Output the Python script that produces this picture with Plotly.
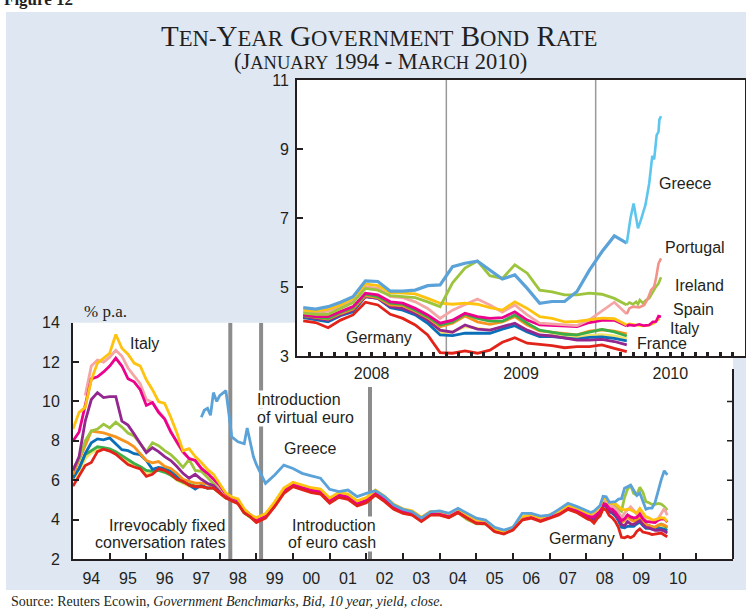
import plotly.graph_objects as go

W, H = 746, 610
SANS = "Liberation Sans, Arial, sans-serif"
SERIF = "Liberation Serif, Times New Roman, serif"
INK = "#231f20"
PANEL = "#dfe7f3"

# ---- x positions -------------------------------------------------------
years_a = [1994 + k / 6 for k in range(30)]          # 1994-1998, every 2nd month
years_b = [1999 + k / 4 for k in range(36)]          # 1999-2007, quarterly
months = [2008 + (k + 0.5) / 12 for k in range(27)]  # Jan 2008 - Mar 2010, monthly

# ---- long run, 1994-1998 -------------------------------------------------
germany_a = [5.7, 6.2, 6.75, 6.9, 7.45, 7.58, 7.48, 7.32, 7.08, 6.8, 6.67, 6.58, 6.2, 6.3, 6.58,
             6.5, 6.32, 6.05, 5.95, 5.75, 5.67, 5.68, 5.6, 5.6, 5.35, 5.12, 4.95, 4.8, 4.35, 4.15]
italy_a = [8.6, 9.45, 9.7, 11.1, 11.95, 12.2, 12.45, 13.4, 12.7, 12.4, 11.95, 11.8, 11.1, 10.6, 10.0,
           9.9, 9.2, 8.4, 7.5, 7.6, 7.2, 6.9, 6.55, 6.3, 5.85, 5.35, 5.15, 5.05, 4.55, 4.25]
spain_a = [8.0, 8.45, 9.8, 11.15, 11.25, 11.5, 11.8, 12.2, 11.8, 11.15, 11.0, 10.6, 9.8, 9.95, 9.45,
           9.1, 8.45, 7.95, 7.45, 7.1, 7.0, 6.6, 6.35, 6.05, 5.75, 5.3, 5.1, 5.0, 4.5, 4.25]
portugal_a = [None, None, 10.3, 11.8, 12.1, 12.0, 12.25, 12.6, 12.3, 11.7, 11.3, 10.9, 10.1, 9.95, 9.5,
              9.15, 8.5, 7.9, 7.4, 7.1, 7.0, 6.6, 6.35, 6.05, 5.65, 5.25, 5.1, 5.0, 4.45, 4.2]
finland_a = [6.5, 7.2, 9.0, 10.1, 10.45, 10.2, 10.25, 10.25, 9.0, 8.8, 8.35, 7.9, 7.4, 7.65, 7.45,
             7.2, 7.0, 6.7, 6.35, 6.1, 6.3, 6.05, 5.85, 5.72, 5.4, 5.12, 5.0, 4.95, 4.45, 4.25]
ireland_a = [6.6, 7.05, 8.0, 8.5, 8.6, 8.85, 8.65, 8.95, 8.7, 8.4, 8.25, 7.85, 7.45, 7.9, 7.75,
             7.5, 7.3, 7.0, 6.65, 7.05, 6.5, 6.45, 6.15, 5.8, 5.55, 5.2, 5.05, 5.0, 4.4, 4.2]
belgium_a = [6.3, 7.0, 7.75, 8.5, 8.45, 8.4, 8.3, 8.2, 8.05, 7.9, 7.7, 7.35, 7.0, 6.88, 6.95,
             6.7, 6.6, 6.35, 6.05, 5.95, 5.85, 5.85, 5.8, 5.7, 5.35, 5.1, 5.0, 4.9, 4.38, 4.18]
france_a = [6.1, 6.6, 7.35, 7.9, 8.1, 8.05, 8.15, 7.85, 7.55, 7.5, 7.35, 7.3, 7.0, 6.55, 6.65,
            6.6, 6.45, 6.2, 5.95, 5.75, 5.55, 5.75, 5.6, 5.65, 5.35, 5.1, 5.0, 4.85, 4.35, 4.15]
austria_a = [6.2, 6.6, 7.3, 7.5, 7.7, 7.65, 7.6, 7.45, 7.25, 7.05, 6.85, 6.7, 6.5, 6.45, 6.5,
             6.4, 6.25, 6.05, 5.9, 5.8, 5.7, 5.7, 5.6, 5.6, 5.35, 5.1, 4.98, 4.85, 4.35, 4.15]
netherlands_a = [6.0, 6.45, 7.1, 7.4, 7.55, 7.6, 7.55, 7.4, 7.2, 6.95, 6.75, 6.65, 6.4, 6.35, 6.55,
                 6.45, 6.3, 6.0, 5.85, 5.7, 5.7, 5.7, 5.6, 5.6, 5.35, 5.1, 4.97, 4.82, 4.32, 4.12]

greece_years_a = [1997.5, 1997.58, 1997.67, 1997.75, 1997.83, 1997.92, 1998.0, 1998.08, 1998.17,
                  1998.25, 1998.33, 1998.5, 1998.67, 1998.75, 1998.83, 1998.92]
greece_a = [9.2, 9.55, 9.65, 9.3, 10.45, 10.0, 10.3, 10.4, 10.55, 9.4, 8.2, 7.95, 7.85, 8.65, 8.0, 7.2]

# ---- long run, 1999-2007 -------------------------------------------------
germany_b = [3.85, 4.07, 4.66, 5.33, 5.67, 5.5, 5.37, 5.3, 4.83, 5.13, 5.03, 4.69, 4.86, 5.25, 4.91, 4.52, 4.32, 4.23,
             3.9, 4.23, 4.23, 4.1, 4.35, 4.07, 3.81, 3.78, 3.39, 3.27, 3.47, 3.98, 4.07, 3.9, 4.07, 4.23, 4.52, 4.35]
italy_b = [4.1, 4.3, 4.9, 5.6, 5.9, 5.75, 5.62, 5.55, 5.1, 5.38, 5.3, 4.95, 5.12, 5.5, 5.18, 4.78, 4.55, 4.45,
           4.12, 4.42, 4.42, 4.3, 4.55, 4.25, 3.98, 3.95, 3.52, 3.4, 3.62, 4.15, 4.25, 4.08, 4.25, 4.42, 4.72, 4.58]
spain_b = [3.95, 4.17, 4.78, 5.45, 5.8, 5.62, 5.5, 5.42, 4.97, 5.26, 5.15, 4.8, 4.98, 5.36, 5.02, 4.6, 4.4, 4.3,
           3.98, 4.3, 4.3, 4.17, 4.42, 4.12, 3.86, 3.82, 3.42, 3.3, 3.51, 4.02, 4.12, 3.95, 4.12, 4.3, 4.6, 4.45]
portugal_b = [4.0, 4.22, 4.82, 5.5, 5.83, 5.67, 5.55, 5.47, 5.0, 5.3, 5.2, 4.85, 5.03, 5.42, 5.08, 4.68, 4.47, 4.37,
              4.03, 4.36, 4.35, 4.22, 4.46, 4.16, 3.9, 3.86, 3.45, 3.33, 3.55, 4.07, 4.17, 4.0, 4.17, 4.35, 4.66, 4.5]
finland_b = [3.92, 4.14, 4.74, 5.42, 5.76, 5.58, 5.45, 5.38, 4.9, 5.2, 5.1, 4.76, 4.93, 5.32, 4.98, 4.58, 4.38, 4.28,
             3.96, 4.28, 4.28, 4.15, 4.4, 4.12, 3.85, 3.82, 3.42, 3.3, 3.5, 4.03, 4.12, 3.95, 4.12, 4.28, 4.58, 4.42]
ireland_b = [3.95, 4.17, 4.78, 5.45, 5.78, 5.62, 5.5, 5.42, 4.96, 5.25, 5.15, 4.8, 4.97, 5.35, 5.0, 4.6, 4.38, 4.28,
             3.95, 4.26, 4.25, 4.12, 4.35, 4.0, 3.78, 3.8, 3.4, 3.3, 3.52, 4.05, 4.13, 3.96, 4.12, 4.3, 4.6, 4.44]
belgium_b = [4.0, 4.22, 4.82, 5.5, 5.84, 5.66, 5.53, 5.46, 4.99, 5.3, 5.19, 4.85, 5.03, 5.41, 5.07, 4.67, 4.46, 4.36,
             4.03, 4.35, 4.35, 4.22, 4.46, 4.18, 3.92, 3.88, 3.47, 3.35, 3.56, 4.08, 4.17, 4.0, 4.17, 4.34, 4.65, 4.5]
france_b = [3.9, 4.12, 4.72, 5.4, 5.74, 5.56, 5.43, 5.36, 4.88, 5.19, 5.09, 4.75, 4.92, 5.31, 4.97, 4.57, 4.37, 4.28,
            3.95, 4.28, 4.28, 4.15, 4.4, 4.12, 3.86, 3.83, 3.43, 3.31, 3.52, 4.03, 4.12, 3.95, 4.12, 4.28, 4.57, 4.4]
austria_b = [3.93, 4.15, 4.75, 5.42, 5.76, 5.59, 5.46, 5.39, 4.92, 5.22, 5.12, 4.78, 4.95, 5.34, 5.0, 4.6, 4.4, 4.31,
             3.98, 4.31, 4.31, 4.18, 4.43, 4.15, 3.89, 3.86, 3.47, 3.35, 3.55, 4.06, 4.15, 3.98, 4.15, 4.31, 4.6, 4.43]
netherlands_b = [3.89, 4.11, 4.7, 5.37, 5.71, 5.54, 5.41, 5.34, 4.87, 5.17, 5.07, 4.73, 4.9, 5.29, 4.95, 4.56, 4.36,
                 4.27, 3.94, 4.27, 4.27, 4.14, 4.39, 4.11, 3.85, 3.82, 3.43, 3.31, 3.51, 4.02, 4.11, 3.94, 4.11, 4.27,
                 4.56, 4.39]
greece_b = [6.8, 5.84, 6.27, 6.77, 6.6, 6.35, 6.22, 6.1, 5.54, 5.42, 5.5, 5.17, 5.33, 5.47, 5.17, 4.74, 4.52, 4.4,
            4.07, 4.4, 4.44, 4.32, 4.57, 4.32, 4.07, 3.98, 3.61, 3.47, 3.61, 4.32, 4.32, 4.18, 4.23, 4.52, 4.83, 4.66]

# ---- monthly, Jan 2008 - Mar 2010 (inset) -------------------------------
greece_m = [4.40, 4.36, 4.43, 4.56, 4.72, 5.18, 5.16, 4.88, 4.88, 4.91, 5.04, 5.06, 5.59, 5.69, 5.75, 5.49, 5.23,
            5.35, 4.96, 4.53, 4.58, 4.58, 4.87, 5.49, 6.02, 6.48, 6.27]
ireland_m = [4.24, 4.21, 4.21, 4.38, 4.55, 4.96, 4.91, 4.75, 4.72, 4.69, 4.57, 4.43, 5.12, 5.55, 5.75, 5.33, 5.25,
             5.64, 5.4, 4.91, 4.86, 4.77, 4.77, 4.82, 4.79, 4.67, 4.48]
italy_m = [4.33, 4.30, 4.36, 4.48, 4.67, 5.09, 5.04, 4.84, 4.82, 4.80, 4.67, 4.53, 4.5, 4.53, 4.5, 4.4, 4.33, 4.57,
           4.38, 4.14, 4.09, 3.99, 4.0, 4.05, 4.1, 4.08, 3.9]
portugal_m = [4.28, 4.26, 4.3, 4.43, 4.62, 5.01, 4.96, 4.72, 4.69, 4.57, 4.38, 4.09, 4.33, 4.5, 4.65, 4.48, 4.27,
              4.48, 4.19, 3.95, 3.92, 3.9, 3.88, 4.05, 4.3, 4.56, 4.22]
spain_m = [4.19, 4.14, 4.14, 4.28, 4.43, 4.82, 4.77, 4.57, 4.53, 4.38, 4.19, 3.95, 4.04, 4.24, 4.14, 4.09, 4.11,
           4.28, 4.04, 3.9, 3.88, 3.85, 3.85, 3.97, 4.03, 4.04, 3.87]
austria_m = [4.17, 4.12, 4.09, 4.26, 4.4, 4.79, 4.72, 4.53, 4.5, 4.33, 4.14, 3.9, 3.99, 4.21, 4.09, 4.01, 4.01, 4.19,
             3.95, 3.75, 3.7, 3.63, 3.61, 3.7, 3.77, 3.7, 3.58]
belgium_m = [4.17, 4.11, 4.07, 4.23, 4.36, 4.75, 4.69, 4.48, 4.46, 4.3, 4.11, 3.85, 3.95, 4.16, 3.99, 3.92, 3.99,
             4.14, 3.9, 3.73, 3.69, 3.63, 3.61, 3.72, 3.76, 3.72, 3.64]
finland_m = [4.14, 4.09, 4.04, 4.19, 4.33, 4.72, 4.67, 4.43, 4.38, 4.24, 4.04, 3.75, 3.69, 3.9, 3.78, 3.75, 3.85,
             3.95, 3.75, 3.61, 3.58, 3.51, 3.46, 3.46, 3.48, 3.42, 3.32]
france_m = [4.11, 4.04, 3.99, 4.17, 4.28, 4.72, 4.67, 4.4, 4.33, 4.19, 3.95, 3.61, 3.59, 3.66, 3.66, 3.66, 3.78,
            3.88, 3.7, 3.56, 3.56, 3.53, 3.49, 3.54, 3.55, 3.51, 3.44]
netherlands_m = [4.13, 4.07, 4.02, 4.2, 4.31, 4.74, 4.69, 4.44, 4.37, 4.22, 3.99, 3.66, 3.7, 3.85, 3.8, 3.75, 3.83,
                 3.93, 3.74, 3.6, 3.6, 3.56, 3.53, 3.6, 3.62, 3.58, 3.5]
germany_m = [4.02, 3.97, 3.82, 4.04, 4.19, 4.56, 4.48, 4.21, 4.09, 3.9, 3.61, 3.1, 3.08, 3.15, 3.08, 3.17, 3.4,
             3.53, 3.37, 3.34, 3.3, 3.24, 3.27, 3.27, 3.32, 3.22, 3.13]

# ---- daily tail after March 2010 (month index, value) ------------------
greece_d_idx = [26.0, 26.3, 26.55, 26.9, 27.15, 27.5, 27.8, 28.05, 28.2, 28.4, 28.55, 28.62, 28.75]
greece_d = [6.27, 7.0, 7.42, 6.7, 6.96, 7.38, 8.0, 8.8, 8.7, 9.4, 9.5, 9.85, 9.95]
portugal_d_idx = [26.0, 26.2, 26.5, 27.0, 27.4, 27.7, 27.95, 28.2, 28.35, 28.55, 28.75]
portugal_d = [4.22, 4.38, 4.43, 4.41, 4.48, 4.67, 4.91, 5.01, 5.25, 5.68, 5.83]
ireland_d_idx = [26.0, 26.2, 26.5, 26.75, 26.9, 27.05, 27.3, 27.55, 27.8, 28.1, 28.35, 28.55, 28.75]
ireland_d = [4.48, 4.55, 4.5, 4.57, 4.5, 4.62, 4.53, 4.62, 4.67, 4.86, 5.01, 5.1, 5.28]
italy_d_idx = [26.0, 26.2, 26.75, 27.3, 27.8, 28.2, 28.45, 28.65]
italy_d = [3.9, 3.93, 3.9, 3.87, 3.9, 3.95, 4.04, 4.09]
spain_d_idx = [26.0, 26.2, 26.6, 27.0, 27.4, 27.8, 28.1, 28.35, 28.55, 28.75]
spain_d = [3.87, 3.9, 3.88, 3.92, 3.88, 3.9, 3.99, 4.0, 4.16, 4.14]

# ---- axis labels / events ------------------------------------------------
year_labels = ["94", "95", "96", "97", "98", "99", "00", "01", "02", "03", "04", "05", "06", "07", "08", "09", "10"]
events = [1998.29, 1999.13, 2002.1]

colors = {
    "Netherlands": "#f3e36a", "Austria": "#3cae49", "France": "#0a6fb8", "Belgium": "#f7941d",
    "Ireland": "#9cc43d", "Finland": "#93278f", "Portugal": "#f4a6a6", "Spain": "#ec008c",
    "Italy": "#ffc20e", "Greece": "#5aa2d8", "Germany": "#e2231a",
}

long_run = {
    "Netherlands": netherlands_a + netherlands_b + netherlands_m,
    "Austria": austria_a + austria_b + austria_m,
    "France": france_a + france_b + france_m,
    "Belgium": belgium_a + belgium_b + belgium_m,
    "Ireland": ireland_a + ireland_b + ireland_m,
    "Finland": finland_a + finland_b + finland_m,
    "Portugal": portugal_a + portugal_b + portugal_m,
    "Spain": spain_a + spain_b + spain_m,
    "Italy": italy_a + italy_b + italy_m,
}
long_x = years_a + years_b + months

inset = {
    "Netherlands": netherlands_m, "France": france_m, "Finland": finland_m, "Belgium": belgium_m,
    "Austria": austria_m, "Spain": spain_m, "Portugal": portugal_m, "Italy": italy_m,
    "Ireland": ireland_m, "Greece": greece_m, "Germany": germany_m,
}


def to_year(idx):
    return [2008 + (m + 0.5) / 12 for m in idx]


fig = go.Figure()

for name, vals in long_run.items():
    fig.add_trace(go.Scatter(x=long_x, y=vals, name=name, mode="lines",
                             line=dict(color=colors[name], width=2.8), xaxis="x", yaxis="y"))
fig.add_trace(go.Scatter(x=greece_years_a + years_b + months, y=greece_a + greece_b + greece_m,
                         name="Greece", mode="lines", line=dict(color=colors["Greece"], width=2.8)))
fig.add_trace(go.Scatter(x=long_x, y=germany_a + germany_b + germany_m, name="Germany", mode="lines",
                         line=dict(color=colors["Germany"], width=2.8)))

# inset
for name, vals in inset.items():
    fig.add_trace(go.Scatter(x=months, y=vals, name=name, mode="lines", xaxis="x2", yaxis="y2",
                             line=dict(color=colors[name], width=3.2 if name == "Greece" else 2.8)))
tails = [("Italy", italy_d_idx, italy_d, colors["Italy"]),
         ("Spain", spain_d_idx, spain_d, colors["Spain"]),
         ("Ireland", ireland_d_idx, ireland_d, colors["Ireland"]),
         ("Portugal", portugal_d_idx, portugal_d, "#f39289"),
         ("Greece", greece_d_idx, greece_d, "#5cc6ef")]
for name, idx, vals, col in tails:
    fig.add_trace(go.Scatter(x=to_year(idx), y=vals, name=name, mode="lines", xaxis="x2", yaxis="y2",
                             line=dict(color=col, width=2.6)))


def px(x):
    return x / W


def py(y):
    return 1 - y / H


shapes = [
    dict(type="rect", xref="paper", yref="paper", x0=0, x1=px(6), y0=0, y1=1,
         fillcolor="white", line_width=0, layer="below"),
    dict(type="rect", xref="paper", yref="paper", x0=0, x1=1, y0=py(12), y1=1,
         fillcolor="white", line_width=0, layer="below"),
    dict(type="rect", xref="paper", yref="paper", x0=0, x1=1, y0=0, y1=py(590),
         fillcolor="white", line_width=0, layer="below"),
    # right border of the long-run panel
    dict(type="line", xref="paper", yref="paper", x0=px(733), x1=px(733), y0=py(559), y1=py(369),
         line=dict(color=INK, width=2), layer="above"),
]
for v in [4, 6, 8, 10]:
    shapes.append(dict(type="line", xref="paper", yref="y", x0=px(727), x1=px(733), y0=v, y1=v,
                       line=dict(color=INK, width=1.5), layer="above"))
for i, ev in enumerate(events):
    shapes.append(dict(type="line", xref="x", yref="y", x0=ev, x1=ev, y0=2, y1=10.73 if i == 2 else 14,
                       line=dict(color="#8c8c8c", width=4), layer="below"))
for yr in [2009, 2010]:
    shapes.append(dict(type="line", xref="x2", yref="y2", x0=yr, x1=yr, y0=3, y1=11,
                       line=dict(color="#9a9a9a", width=1.5), layer="below"))


def note(text, x, y, xanchor="left", size=16, bg=None, family=SANS):
    return dict(text=text, x=px(x), y=py(y), xref="paper", yref="paper", xanchor=xanchor,
                yanchor="middle", showarrow=False, font=dict(family=family, size=size, color=INK),
                bgcolor=bg, borderpad=0)


sc = '<span style="font-size:22.7px">'
sc2 = '<span style="font-size:18.5px">'
annotations = [
    dict(text="<b>Figure 12</b>", x=px(2), y=py(11), xref="paper", yref="paper", xanchor="left",
         yanchor="bottom", showarrow=False, font=dict(family=SERIF, size=17, color=INK)),
    note("T" + sc + "EN-</span>Y" + sc + "EAR</span> G" + sc + "OVERNMENT</span> B" + sc + "OND</span> R"
         + sc + "ATE</span>", 379, 36, xanchor="center", size=29, family=SERIF),
    note("(J" + sc2 + "ANUARY</span> 1994 - M" + sc2 + "ARCH</span> 2010)", 380, 62, xanchor="center",
         size=22.5, family=SERIF),
    note("% p.a.", 83, 311, size=17, family=SERIF),
    note("Source: Reuters Ecowin, <i>Government Benchmarks, Bid, 10 year, yield, close.</i>", 10, 601,
         size=14, family=SERIF),
    note("Italy", 129, 343),
    note("Irrevocably fixed", 227, 525, xanchor="right"),
    note("conversation rates", 227, 542, xanchor="right"),
    note("Introduction", 256, 399, bg="white"),
    note("of virtual euro", 256, 417, bg="white"),
    note("Greece", 283, 448),
    note("Introduction", 377, 525, xanchor="right", bg="white"),
    note("of euro cash", 377, 542, xanchor="right", bg="white"),
    note("Germany", 548, 538),
    note("Greece", 658, 183),
    note("Portugal", 664, 247),
    note("Ireland", 674, 286),
    note("Spain", 672, 309),
    note("Italy", 669, 328),
    note("France", 636, 343),
    note("Germany", 345, 337),
]

month_ticks = [2008 + k / 12 for k in range(1, 36)]
month_text = ["2008" if k == 6 else "2009" if k == 18 else "2010" if k == 30 else "" for k in range(1, 36)]

axis_common = dict(showgrid=False, zeroline=False, showline=True, linecolor=INK, linewidth=2,
                   automargin=False, tickfont=dict(size=16, color=INK, family=SANS), tickcolor=INK)

fig.update_layout(
    template="none",
    width=W, height=H, autosize=False,
    margin=dict(l=0, r=0, t=0, b=0, pad=0),
    paper_bgcolor=PANEL, plot_bgcolor="white",
    showlegend=False,
    font=dict(family=SANS, size=16, color=INK),
    shapes=shapes, annotations=annotations,
    xaxis=dict(axis_common, domain=[px(73), px(733)], range=[1994, 2012], anchor="y",
               tickmode="array", tickvals=[1994.5 + k for k in range(17)], ticktext=year_labels,
               ticks="", ticklabelstandoff=4,
               minor=dict(tickmode="array", tickvals=list(range(1995, 2012)), ticks="inside",
                          ticklen=6, tickwidth=1.5, tickcolor=INK, showgrid=False)),
    yaxis=dict(axis_common, domain=[py(559), py(322.7)], range=[2, 14], anchor="x",
               tickmode="array", tickvals=[2, 4, 6, 8, 10, 12, 14],
               ticks="inside", ticklen=6, tickwidth=1.5, ticklabelstandoff=8),
    xaxis2=dict(axis_common, domain=[px(297), px(745)], range=[2008, 2011], anchor="y2",
                tickmode="array", tickvals=month_ticks, ticktext=month_text, mirror=True,
                ticks="inside", ticklen=4, tickwidth=2.5, ticklabelstandoff=2),
    yaxis2=dict(axis_common, domain=[py(356), py(80)], range=[3, 11], anchor="x2",
                tickmode="array", tickvals=[3, 5, 7, 9, 11], mirror=True,
                ticks="inside", ticklen=6, tickwidth=1.5, ticklabelstandoff=3),
)

fig.write_html("out.html", config={"displayModeBar": False},
               post_script="document.body.style.margin='0';")
